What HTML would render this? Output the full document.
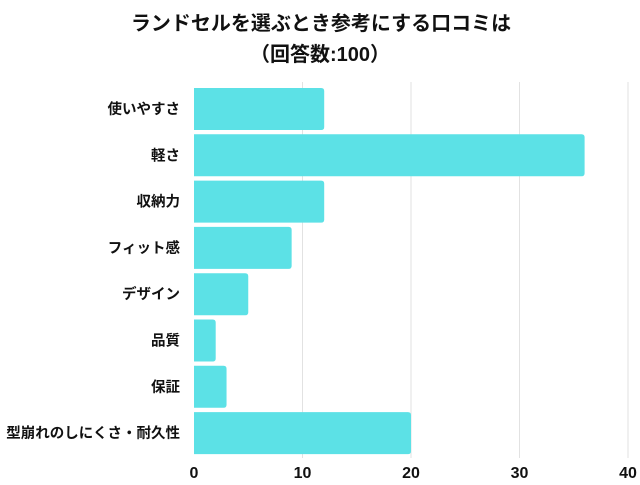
<!DOCTYPE html>
<html><head><meta charset="utf-8"><style>
body{margin:0;background:#fff;width:640px;height:480px;overflow:hidden;font-family:"Liberation Sans","Noto Sans CJK JP",sans-serif}
</style></head><body>
<svg width="640" height="480" id="c">
<text x="321" y="30" text-anchor="middle" font-size="20" font-weight="bold" fill="#111">ランドセルを選ぶとき参考にする口コミは</text>
<text x="320" y="61" text-anchor="middle" font-size="20" font-weight="bold" fill="#111">（回答数:100）</text>
<g id="grid"></g><g id="bars"></g><g id="labels"></g><g id="ticks"></g>
</svg>
<script>
const categories=["使いやすさ","軽さ","収納力","フィット感","デザイン","品質","保証","型崩れのしにくさ・耐久性"];
const values=[12,36,12,9,5,2,3,20];
const tickValues=[0,10,20,30,40];
const tickLabels=["0","10","20","30","40"];
const NS="http://www.w3.org/2000/svg";
const x0=194,pxPer=10.85,top0=88,step=46.3,bh=42,gTop=82,gBot=458;
const xs=v=>x0+v*pxPer, ys=i=>top0+i*step;
function mk(t,a,p){const e=document.createElementNS(NS,t);for(const k in a)e.setAttribute(k,a[k]);document.getElementById(p).appendChild(e);return e;}
tickValues.forEach((v,i)=>{
 if(v>0){const g=mk("line",{x1:xs(v),x2:xs(v),y1:gTop,y2:gBot,stroke:"#e2e2e2","stroke-width":1},"grid");
 
 }
 const t=mk("text",{x:xs(v),y:478,"text-anchor":"middle","font-size":16,"font-weight":"bold",fill:"#111"},"ticks");
 t.textContent=tickLabels[i];
 
 
});
categories.forEach((c,i)=>{
 const w=xs(values[i])-x0;
 const b=mk("path",{d:`M${x0},${ys(i)}h${w-3}q3,0 3,3v${bh-6}q0,3 -3,3h${-(w-3)}z`,fill:"#5ce1e6"},"bars");
 
 
 const t=mk("text",{x:180,y:ys(i)+bh/2+5,"text-anchor":"end","font-size":14.5,"font-weight":"bold",fill:"#111"},"labels");
 t.textContent=c;
 
 
});
</script>
</body></html>
